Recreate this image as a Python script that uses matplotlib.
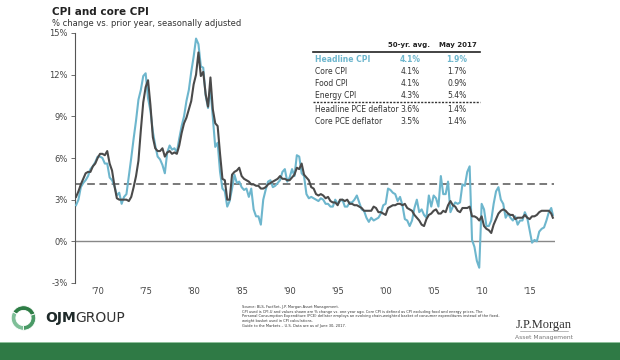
import matplotlib
matplotlib.use("Agg")
import matplotlib.pyplot as plt
import matplotlib.patches as mpatches
import numpy as np

# ---------------- data (quarterly, % y/y) ----------------
start_year = 1967
start_q = 3  # first point: 1967 Q3
headline_cpi = [
    2.6, 3.0,                 # 1967 Q3-Q4
    3.9, 4.2, 4.4, 4.7,       # 1968
    5.2, 5.4, 5.7, 6.1,       # 1969
    6.1, 6.0, 5.6, 5.6,       # 1970
    4.6, 4.4, 4.0, 3.3,       # 1971
    3.5, 2.7, 3.2, 3.4,       # 1972
    4.7, 6.0, 7.4, 8.7,       # 1973
    10.2, 10.9, 11.9, 12.1,   # 1974
    10.3, 9.4, 7.9, 6.9,      # 1975
    6.1, 5.9, 5.5, 4.9,       # 1976
    6.4, 6.9, 6.6, 6.7,       # 1977
    6.4, 7.4, 8.3, 9.0,       # 1978
    10.1, 10.9, 12.2, 13.3,   # 1979
    14.6, 14.2, 12.6, 12.5,   # 1980
    10.5, 9.6, 11.0, 8.9,     # 1981
    6.8, 7.1, 5.0, 3.8,       # 1982
    3.6, 2.5, 2.9, 3.8,       # 1983
    4.8, 4.2, 4.3, 3.9,       # 1984
    3.7, 3.8, 3.2, 3.8,       # 1985
    2.3, 1.8, 1.8, 1.2,       # 1986
    3.0, 3.7, 4.3, 4.4,       # 1987
    3.9, 4.0, 4.2, 4.4,       # 1988
    5.0, 5.2, 4.3, 4.6,       # 1989
    5.2, 4.7, 6.2, 6.1,       # 1990
    4.9, 4.7, 3.4, 3.1,       # 1991
    3.2, 3.1, 3.0, 2.9,       # 1992
    3.1, 3.0, 2.7, 2.7,       # 1993
    2.5, 2.5, 3.0, 2.7,       # 1994
    2.9, 3.0, 2.5, 2.5,       # 1995
    2.8, 2.8, 3.0, 3.3,       # 1996
    2.8, 2.3, 2.2, 1.7,       # 1997
    1.4, 1.7, 1.5, 1.6,       # 1998
    1.7, 2.0, 2.6, 2.7,       # 1999
    3.8, 3.7, 3.5, 3.4,       # 2000
    2.9, 3.2, 2.6, 1.6,       # 2001
    1.5, 1.1, 1.5, 2.4,       # 2002
    3.0, 2.1, 2.3, 1.9,       # 2003
    1.7, 3.3, 2.5, 3.3,       # 2004
    3.1, 2.5, 4.7, 3.4,       # 2005
    3.4, 4.3, 2.1, 2.5,       # 2006
    2.8, 2.7, 2.8, 4.1,       # 2007
    4.0, 5.0, 5.4, 0.1,       # 2008
    -0.4, -1.4, -1.9, 2.7,    # 2009
    2.3, 1.1, 1.1, 1.5,       # 2010
    2.7, 3.6, 3.9, 3.0,       # 2011
    2.7, 1.7, 2.0, 1.7,       # 2012
    1.5, 1.8, 1.2, 1.5,       # 2013
    1.5, 2.1, 1.7, 0.8,       # 2014
    -0.1, 0.1, 0.0, 0.7,      # 2015
    0.9, 1.0, 1.5, 2.1,       # 2016
    2.4, 1.9,                 # 2017 Q1, May
]
core_cpi = [
    3.2, 3.6,                 # 1967
    4.1, 4.5, 4.9, 5.0,       # 1968
    5.0, 5.4, 5.6, 6.0,       # 1969
    6.3, 6.3, 6.2, 6.5,       # 1970
    5.6, 5.1, 4.0, 3.1,       # 1971
    3.0, 3.0, 3.0, 3.0,       # 1972
    2.9, 3.2, 3.9, 4.7,       # 1973
    5.8, 8.0, 10.0, 11.1,     # 1974
    11.6, 9.8, 7.5, 6.7,      # 1975
    6.5, 6.5, 6.7, 6.1,       # 1976
    6.4, 6.5, 6.3, 6.4,       # 1977
    6.3, 6.9, 7.8, 8.5,       # 1978
    8.9, 9.5, 10.1, 11.3,     # 1979
    12.0, 13.6, 11.9, 12.2,   # 1980
    10.6, 9.7, 11.8, 9.5,     # 1981
    8.5, 8.3, 6.3, 4.5,       # 1982
    4.4, 3.0, 3.0, 4.8,       # 1983
    5.0, 5.1, 5.3, 4.7,       # 1984
    4.5, 4.4, 4.3, 4.1,       # 1985
    4.1, 4.0, 4.0, 3.8,       # 1986
    3.8, 3.9, 4.1, 4.2,       # 1987
    4.3, 4.4, 4.5, 4.7,       # 1988
    4.5, 4.5, 4.4, 4.4,       # 1989
    4.6, 4.8, 5.3, 5.2,       # 1990
    5.6, 4.8, 4.6, 4.4,       # 1991
    3.9, 3.8, 3.4, 3.3,       # 1992
    3.4, 3.3, 3.1, 3.2,       # 1993
    2.9, 2.8, 2.8, 2.6,       # 1994
    3.0, 3.0, 2.9, 3.0,       # 1995
    2.7, 2.7, 2.6, 2.6,       # 1996
    2.5, 2.4, 2.2, 2.2,       # 1997
    2.2, 2.2, 2.5, 2.4,       # 1998
    2.1, 2.1, 2.0, 1.9,       # 1999
    2.4, 2.5, 2.6, 2.6,       # 2000
    2.7, 2.7, 2.6, 2.7,       # 2001
    2.4, 2.3, 2.2, 1.9,       # 2002
    1.7, 1.5, 1.2, 1.1,       # 2003
    1.6, 1.9, 2.0, 2.2,       # 2004
    2.3, 2.0, 2.0, 2.2,       # 2005
    2.1, 2.6, 2.9, 2.6,       # 2006
    2.5, 2.2, 2.1, 2.4,       # 2007
    2.4, 2.4, 2.5, 1.8,       # 2008
    1.8, 1.7, 1.5, 1.8,       # 2009
    1.1, 0.9, 0.8, 0.6,       # 2010
    1.2, 1.6, 2.0, 2.2,       # 2011
    2.3, 2.2, 2.0, 1.9,       # 2012
    1.9, 1.6, 1.7, 1.7,       # 2013
    1.7, 1.9, 1.7, 1.6,       # 2014
    1.8, 1.8, 1.9, 2.1,       # 2015
    2.2, 2.2, 2.2, 2.2,       # 2016
    2.0, 1.7,                 # 2017 Q1, May
]
avg_50yr = 4.1
y_ticks = [-3, 0, 3, 6, 9, 12, 15]
x_tick_years = [1970, 1975, 1980, 1985, 1990, 1995, 2000, 2005, 2010, 2015]
x_tick_labels = ["'70", "'75", "'80", "'85", "'90", "'95", "'00", "'05", "'10", "'15"]

tbl_rows = ["Headline CPI", "Core CPI", "Food CPI", "Energy CPI",
            "Headline PCE deflator", "Core PCE deflator"]
tbl_avg = ["4.1%", "4.1%", "4.1%", "4.3%", "3.6%", "3.5%"]
tbl_latest = ["1.9%", "1.7%", "0.9%", "5.4%", "1.4%", "1.4%"]

# dates: quarter-end months, last point May 2017
n = len(headline_cpi)
dates = []
y, q = start_year, start_q
for i in range(n - 1):
    dates.append(y + (q * 3 - 0.5) / 12.0)
    q += 1
    if q > 4:
        q = 1
        y += 1
dates.append(2017 + 4.5 / 12.0)
dates = np.array(dates)

# ---------------- figure ----------------
W, H = 620, 360
fig = plt.figure(figsize=(6.2, 3.6), dpi=100)
fig.patch.set_facecolor("white")

def fx(px):
    return px / W

def fy(py):
    return 1 - py / H

LIGHT = "#6DB6CD"
DARK = "#4A4A4A"

ax = fig.add_axes([fx(75), fy(283), fx(555) - fx(75), fy(33) - fy(283)])
ax.set_xlim(1967.6, 2017.6)
ax.set_ylim(-3, 15)
ax.plot(dates, headline_cpi, color=LIGHT, lw=1.5, zorder=3)
ax.plot(dates, core_cpi, color=DARK, lw=1.5, zorder=4)
ax.plot([1967.6, 2017.45], [avg_50yr, avg_50yr], color="#555555", lw=1.1,
        dashes=(5, 3), zorder=2)
ax.plot([1967.6, 2017.45], [0, 0], color="#888888", lw=1.0, zorder=2)

for s in ["top", "right", "bottom"]:
    ax.spines[s].set_visible(False)
ax.spines["left"].set_color("#555555")
ax.spines["left"].set_linewidth(0.8)
ax.set_yticks(y_ticks)
ax.set_yticklabels([f"{v}%" for v in y_ticks], fontsize=6, color="#444444")
ax.tick_params(axis="y", length=3, width=0.6, color="#555555", pad=2)
ax.set_xticks(x_tick_years)
ax.set_xticklabels(x_tick_labels, fontsize=6, color="#444444")
ax.tick_params(axis="x", length=0, pad=3)
ax.set_facecolor("white")

# title
fig.text(fx(52), fy(12), "CPI and core CPI", fontsize=7.5, fontweight="bold",
         color="#222222", va="center", ha="left")
fig.text(fx(52), fy(23), "% change vs. prior year, seasonally adjusted",
         fontsize=6, color="#333333", va="center", ha="left")

# table
tfs = 5.5
fig.text(fx(409), fy(45), "50-yr. avg.", fontsize=5, fontweight="bold",
         color="#222222", ha="center", va="center")
fig.text(fx(458), fy(45), "May 2017", fontsize=5, fontweight="bold",
         color="#222222", ha="center", va="center")
fig.add_artist(plt.Line2D([fx(313), fx(480)], [fy(52), fy(52)], color="#222222", lw=1.2))
row_y = [59, 72, 84, 96, 110, 122]
for i, (lab, a, b) in enumerate(zip(tbl_rows, tbl_avg, tbl_latest)):
    col = LIGHT if i == 0 else "#333333"
    fw = "bold" if i == 0 else "normal"
    fig.text(fx(315), fy(row_y[i]), lab, fontsize=tfs, color=col, fontweight=fw,
             ha="left", va="center")
    fig.text(fx(410), fy(row_y[i]), a, fontsize=tfs, color=col, fontweight=fw,
             ha="center", va="center")
    fig.text(fx(457), fy(row_y[i]), b, fontsize=tfs, color=col, fontweight=fw,
             ha="center", va="center")
fig.add_artist(plt.Line2D([fx(313), fx(480)], [fy(102), fy(102)], color="#333333",
                          lw=1.0, dashes=(1.5, 1)))

# bottom band
fig.add_artist(mpatches.Rectangle((0, 0), 1, fy(343), transform=fig.transFigure,
                                  facecolor="#2F7A45", edgecolor="none"))
fig.add_artist(mpatches.Rectangle((0, fy(343)), 1, 0.004, transform=fig.transFigure,
                                  facecolor="#8FC09C", edgecolor="none"))

# logo
lax = fig.add_axes([fx(10), fy(332), fx(37) - fx(10), fy(304) - fy(332)])
lax.set_xlim(-1.1, 1.1)
lax.set_ylim(-1.1, 1.1)
lax.set_aspect("equal")
lax.axis("off")
for t1, t2, c in [(20, 150, "#2E7D46"), (150, 270, "#7FBF98"), (270, 380, "#4A9A66")]:
    lax.add_patch(mpatches.Wedge((0, 0), 1.0, t1, t2, width=0.38, facecolor=c,
                                 edgecolor="white", lw=0.6))
fig.text(fx(45), fy(318), "OJM", fontsize=10, fontweight="bold", color="#1F2A2A",
         ha="left", va="center")
fig.text(fx(75), fy(318), "GROUP", fontsize=10, color="#333333",
         ha="left", va="center")

# source text
src = ("Source: BLS, FactSet, J.P. Morgan Asset Management.\n"
       "CPI used is CPI-U and values shown are % change vs. one year ago. Core CPI is defined as CPI excluding food and energy prices. The\n"
       "Personal Consumption Expenditure (PCE) deflator employs an evolving chain-weighted basket of consumer expenditures instead of the fixed-\n"
       "weight basket used in CPI calculations.\n"
       "Guide to the Markets \u2013 U.S. Data are as of June 30, 2017.")
fig.text(fx(242), fy(305), src, fontsize=2.6, color="#333333", ha="left", va="top",
         linespacing=1.25)

# JP Morgan
fig.text(fx(544), fy(325), "J.P.Morgan", fontsize=9, family="Liberation Serif",
         color="#333333", ha="center", va="center")
fig.add_artist(plt.Line2D([fx(520), fx(568)], [fy(331), fy(331)], color="#888888", lw=0.4))
fig.text(fx(544), fy(337), "Asset Management", fontsize=4.3, color="#777777",
         ha="center", va="center")

fig.savefig("out.png", dpi=100, facecolor="white")
